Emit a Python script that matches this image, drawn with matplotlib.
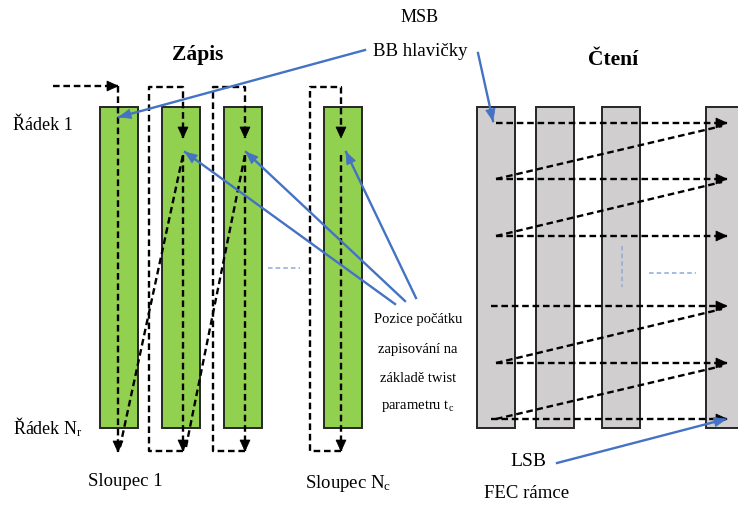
import matplotlib
matplotlib.use("Agg")
import matplotlib.pyplot as plt
from matplotlib.patches import Rectangle, Polygon

plt.rcParams['font.family'] = ['Liberation Serif', 'DejaVu Serif']
plt.rcParams['mathtext.fontset'] = 'custom'
plt.rcParams['mathtext.rm'] = 'Liberation Serif'
plt.rcParams['mathtext.it'] = 'Liberation Serif:italic'

# ---- diagram data (pixel coordinates of the reference) ----
write_cols_x = [100, 162, 224, 324]          # left edges of green columns
read_cols_x = [477, 536, 602, 706]           # left edges of grey columns
col_width = 38
col_top, col_bottom = 107, 428
write_lines_x = [118, 183, 245, 341]          # write path x
write_loop_left = [None, 149, 213, 310]
read_rows_y = [123, 179, 236, 306, 363, 419]
read_diag_pairs = [(1, 0), (2, 1), (4, 3), (5, 4)]

GREEN = '#92D050'
GREY = '#D0CECE'
BLUE = '#4472C4'
LBLUE = '#8FAADC'
DASH = (0, (2.8, 1.6))

fig = plt.figure(figsize=(7.38, 5.05), dpi=100)
ax = fig.add_axes([0, 0, 1, 1])
ax.set_xlim(0, 738)
ax.set_ylim(505, 0)
ax.axis('off')


def head(x, y, dx, dy, color='black', L=11, W=10):
    n = (dx * dx + dy * dy) ** 0.5
    ux, uy = dx / n, dy / n
    px, py = -uy, ux
    bx, by = x - ux * L, y - uy * L
    tri = Polygon([(x, y), (bx + px * W / 2, by + py * W / 2),
                   (bx - px * W / 2, by - py * W / 2)], closed=True,
                  facecolor=color, edgecolor=color, lw=0.5, zorder=6)
    ax.add_patch(tri)


def dline(xs, ys, arrow=True, lw=1.7):
    ax.plot(xs, ys, color='black', lw=lw, linestyle=DASH, zorder=4,
            solid_capstyle='butt', dash_capstyle='butt')
    if arrow:
        head(xs[-1], ys[-1], xs[-1] - xs[-2], ys[-1] - ys[-2])


def barrow(x0, y0, x1, y1, color=BLUE):
    ax.plot([x0, x1], [y0, y1], color=color, lw=1.7, zorder=5)
    head(x1, y1, x1 - x0, y1 - y0, color=color, L=12, W=9.5)


# columns
for x in write_cols_x:
    ax.add_patch(Rectangle((x, col_top), col_width, col_bottom - col_top,
                           facecolor=GREEN, edgecolor='#262626', lw=1.4, zorder=1))
for x in read_cols_x:
    ax.add_patch(Rectangle((x, col_top), col_width, col_bottom - col_top,
                           facecolor=GREY, edgecolor='#262626', lw=1.4, zorder=1))

# ---- write paths ----
dline([53, 118], [86, 86])
dline([118, 118], [86, 452])
for i in range(1, 4):
    x = write_lines_x[i]
    xl = write_loop_left[i]
    dline([x, x], [155, 451])
    dline([x, xl, xl, x, x], [451, 451, 87, 87, 138])
# diagonals between columns
dline([120, 183], [447, 155], arrow=False)
dline([186, 245], [447, 155], arrow=False)

# ---- read paths ----
for k, y in enumerate(read_rows_y):
    x0 = 491 if k in (3, 5) else 496
    dline([x0, 727], [y, y])
for a, b in read_diag_pairs:
    dline([496, 722], [read_rows_y[a], read_rows_y[b] + 3], arrow=False)

# ellipsis marks
ax.plot([268, 300], [268, 268], color=LBLUE, lw=1.1, linestyle=(0, (3, 2)), zorder=3)
ax.plot([622, 622], [246, 287], color=LBLUE, lw=1.1, linestyle=(0, (3, 2)), zorder=3)
ax.plot([649, 696], [273, 273], color=LBLUE, lw=1.1, linestyle=(0, (3, 2)), zorder=3)

# ---- blue pointer arrows ----
barrow(365, 50, 119, 117)
barrow(478, 53, 493, 121)
barrow(395, 304, 185, 152)
barrow(405, 301, 246, 152)
barrow(416, 298, 346, 152)
barrow(557, 463, 726, 419)

# ---- texts ----
ax.text(198, 55, 'Zápis', fontsize=15.5, fontweight='bold', ha='center', va='center')
ax.text(613, 60, 'Čtení', fontsize=15.5, fontweight='bold', ha='center', va='center')
ax.text(420, 18, 'MSB', fontsize=13, ha='center', va='center')
ax.text(420, 52, 'BB hlavičky', fontsize=13.5, ha='center', va='center')
ax.text(13, 125, 'Řádek 1', fontsize=13, ha='left', va='center')
ax.text(13, 427, r'Řádek N$_\mathrm{r}$', fontsize=13, ha='left', va='center')
ax.text(125, 482, 'Sloupec 1', fontsize=13.5, ha='center', va='center')
ax.text(348, 483, r'Sloupec N$_\mathrm{c}$', fontsize=13.5, ha='center', va='center')
pozice = ['Pozice počátku', 'zapisování na', 'základě twist', r'parametru t$_\mathrm{c}$']
for s, y in zip(pozice, [320, 349, 378, 406]):
    ax.text(418, y, s, fontsize=10.5, ha='center', va='center')
ax.text(528, 462, 'LSB', fontsize=14, ha='center', va='center')
ax.text(527, 493, 'FEC rámce', fontsize=13.5, ha='center', va='center')

fig.savefig('out.png', dpi=100)
